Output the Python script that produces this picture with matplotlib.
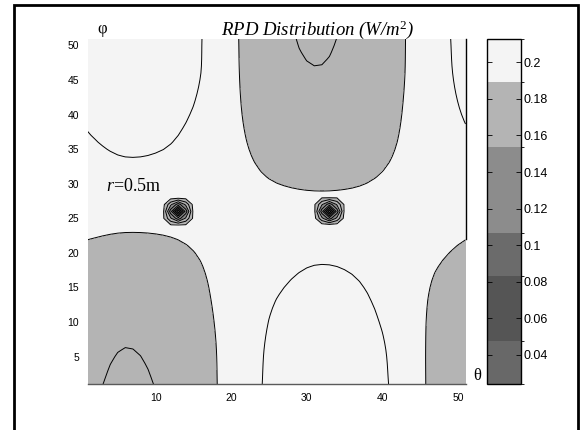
import numpy as np
import matplotlib
matplotlib.use('Agg')
import matplotlib.pyplot as plt
from matplotlib.colors import ListedColormap, BoundaryNorm
from matplotlib.cm import ScalarMappable
from matplotlib.lines import Line2D

plt.rcParams['mathtext.fontset'] = 'custom'
plt.rcParams['mathtext.rm'] = 'Liberation Serif'
plt.rcParams['mathtext.it'] = 'Liberation Serif:italic'

# ---------------- data ----------------
theta_nodes = [1, 6, 11, 16, 21, 26, 31, 36, 41, 46, 51]
phi_nodes = [1, 6, 11, 16, 21, 26, 31, 36, 41, 46, 51]
# RPD values (W/m^2); one row per phi node, columns follow theta_nodes
rpd_phi01 = [0.1630, 0.1570, 0.1620, 0.1740, 0.1886, 0.2059, 0.2126, 0.2100, 0.1995, 0.1790, 0.1647]
rpd_phi06 = [0.1650, 0.1598, 0.1640, 0.1748, 0.1883, 0.2049, 0.2115, 0.2089, 0.1985, 0.1790, 0.1657]
rpd_phi11 = [0.1686, 0.1635, 0.1665, 0.1765, 0.1878, 0.2020, 0.2080, 0.2054, 0.1960, 0.1795, 0.1686]
rpd_phi16 = [0.1732, 0.1690, 0.1710, 0.1785, 0.1880, 0.1974, 0.2030, 0.2010, 0.1930, 0.1810, 0.1732]
rpd_phi21 = [0.1789, 0.1768, 0.1777, 0.1815, 0.1869, 0.1917, 0.1955, 0.1945, 0.1895, 0.1837, 0.1789]
rpd_phi26 = [0.1853, 0.1853, 0.1853, 0.1853, 0.1853, 0.1853, 0.1853, 0.1853, 0.1853, 0.1853, 0.1853]
rpd_phi31 = [0.1920, 0.1950, 0.1935, 0.1890, 0.1837, 0.1789, 0.1766, 0.1776, 0.1816, 0.1869, 0.1917]
rpd_phi36 = [0.1985, 0.2032, 0.2015, 0.1935, 0.1822, 0.1732, 0.1688, 0.1707, 0.1782, 0.1884, 0.1974]
rpd_phi41 = [0.2025, 0.2085, 0.2062, 0.1975, 0.1810, 0.1686, 0.1626, 0.1653, 0.1755, 0.1896, 0.2020]
rpd_phi46 = [0.2049, 0.2120, 0.2095, 0.2000, 0.1803, 0.1657, 0.1605, 0.1640, 0.1738, 0.1903, 0.2049]
rpd_phi51 = [0.2059, 0.2126, 0.2105, 0.2005, 0.1800, 0.1647, 0.1580, 0.1630, 0.1732, 0.1906, 0.2059]

# two sharp minima (dark spots)
spot_theta = [13, 33]
spot_phi = [26, 26]
spot_min = [0.0241, 0.0241]
spot_radius = [1.9, 1.9]

line_levels = [0.04, 0.06, 0.08, 0.10, 0.12, 0.14, 0.16, 0.18, 0.20]
fill_levels = [0.0, 0.04, 0.08, 0.10, 0.14, 0.18, 0.25]
fill_colors = ['#686868', '#555555', '#6b6b6b', '#8c8c8c', '#b4b4b4', '#f4f4f4']

cb_bounds = [0.0241, 0.0476, 0.0832, 0.1068, 0.1539, 0.1894, 0.2126]
cb_colors = ['#686868', '#555555', '#6b6b6b', '#8c8c8c', '#b4b4b4', '#f4f4f4']
cb_ticks = [0.04, 0.06, 0.08, 0.10, 0.12, 0.14, 0.16, 0.18, 0.20]
cb_ticklabels = ['0.04', '0.06', '0.08', '0.1', '0.12', '0.14', '0.16', '0.18', '0.2']

x_ticks = [10, 20, 30, 40, 50]
y_ticks = [5, 10, 15, 20, 25, 30, 35, 40, 45, 50]

# ---------------- rendering grid ----------------
Z_nodes = np.array([rpd_phi01, rpd_phi06, rpd_phi11, rpd_phi16, rpd_phi21, rpd_phi26,
                    rpd_phi31, rpd_phi36, rpd_phi41, rpd_phi46, rpd_phi51])


def cr_weights(nodes, q):
    nodes = np.asarray(nodes, float)
    n = len(nodes)
    step = nodes[1] - nodes[0]
    u = (np.asarray(q, float) - nodes[0]) / step
    i = np.clip(np.floor(u).astype(int), 0, n - 2)
    t = u - i
    ws = [0.5 * (-t**3 + 2 * t**2 - t), 0.5 * (3 * t**3 - 5 * t**2 + 2),
          0.5 * (-3 * t**3 + 4 * t**2 + t), 0.5 * (t**3 - t**2)]
    W = np.zeros((len(u), n))
    rows = np.arange(len(u))
    for k, w in zip([-1, 0, 1, 2], ws):
        idx = i + k
        lo = idx < 0
        hi = idx > n - 1
        mid = ~(lo | hi)
        np.add.at(W, (rows[mid], idx[mid]), w[mid])
        np.add.at(W, (rows[lo], np.zeros(lo.sum(), int)), 2 * w[lo])
        np.add.at(W, (rows[lo], np.ones(lo.sum(), int)), -w[lo])
        np.add.at(W, (rows[hi], np.full(hi.sum(), n - 1)), 2 * w[hi])
        np.add.at(W, (rows[hi], np.full(hi.sum(), n - 2)), -w[hi])
    return W


th = np.arange(1, 52, 1.0)
ph = np.arange(1, 52, 1.0)
Z = cr_weights(phi_nodes, ph) @ Z_nodes @ cr_weights(theta_nodes, th).T
TH, PH = np.meshgrid(th, ph)
for ts, ps, vm, rr in zip(spot_theta, spot_phi, spot_min, spot_radius):
    r = np.hypot(TH - ts, PH - ps) / rr
    Z = np.where(r < 1, vm + (Z - vm) * r, Z)

# ---------------- figure ----------------
W_PX, H_PX = 583, 430
fig = plt.figure(figsize=(W_PX / 100, H_PX / 100), dpi=100)
fig.patch.set_facecolor('white')

ax = fig.add_axes([87.5 / W_PX, 1 - 384.3 / H_PX, (465.5 - 87.5) / W_PX, (384.3 - 38.5) / H_PX])
ax.contourf(TH, PH, Z, levels=fill_levels, colors=fill_colors)
ax.contour(TH, PH, Z, levels=line_levels, colors='black', linewidths=0.7)
ax.set_xlim(1, 51)
ax.set_ylim(1, 51)
ax.set_xticks(x_ticks)
ax.set_yticks(y_ticks)
ax.tick_params(length=0, labelsize=7.5, pad=6)
for lab in ax.get_xticklabels() + ax.get_yticklabels():
    lab.set_family('Liberation Sans')
ax.spines['left'].set_visible(False)
ax.spines['top'].set_visible(False)
ax.spines['bottom'].set_color('#5a5a5a')
ax.spines['bottom'].set_linewidth(1.0)
ax.spines['right'].set_color('black')
ax.spines['right'].set_linewidth(1.0)
ax.spines['right'].set_bounds(22, 51)

ax.text(7.05, 29.0, r'$r$=0.5m', family='Liberation Serif', fontsize=13,
        ha='center', va='baseline')

fig.text(318 / W_PX, 1 - 35 / H_PX, r'RPD Distribution (W/m$^{2}$)', family='Liberation Serif',
         style='italic', fontsize=13.5, ha='center', va='baseline')
fig.text(102 / W_PX, 1 - 29 / H_PX, 'φ', family='Liberation Serif', fontsize=12,
         ha='center', va='center')
fig.text(477.5 / W_PX, 1 - 376.5 / H_PX, 'θ', family='Liberation Serif', fontsize=12,
         ha='center', va='center')

# colour bar
cax = fig.add_axes([487 / W_PX, 1 - 384 / H_PX, 34 / W_PX, (384 - 39.3) / H_PX])
cmap = ListedColormap(cb_colors)
norm = BoundaryNorm(cb_bounds, cmap.N)
cb = fig.colorbar(ScalarMappable(norm=norm, cmap=cmap), cax=cax, ticks=cb_ticks,
                  spacing='proportional')
cb.set_ticklabels(cb_ticklabels)
cax.tick_params(direction='in', length=3.5, width=0.6, left=True, right=True,
                labelleft=False, labelright=True, labelsize=9, pad=2)
for lab in cax.get_yticklabels():
    lab.set_family('Liberation Sans')
cb.outline.set_linewidth(1.0)
cb.outline.set_edgecolor('black')

# outer frame (open at the bottom)
x0, x1, yt = 14 / W_PX, 578 / W_PX, 1 - 5.3 / H_PX
fig.add_artist(Line2D([x0, x0, x1, x1], [0, yt, yt, 0], transform=fig.transFigure,
                      color='black', linewidth=2.0, solid_joinstyle='miter'))

fig.savefig('out.png', dpi=100)
